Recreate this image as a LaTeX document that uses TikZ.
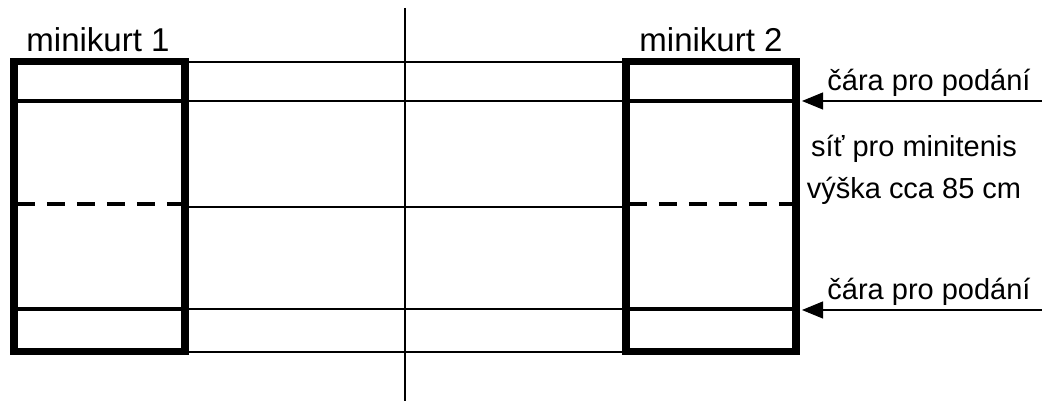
\documentclass[tikz,border=0pt]{standalone}
\usepackage{fontspec}
\setmainfont{Liberation Sans}
\usetikzlibrary{arrows.meta}
\tikzset{
  kurt/.style={line width=4.4pt},
  podani/.style={line width=2.7pt},
  sit/.style={line width=2.4pt, dash pattern=on 0.36cm off 0.24cm},
  spoj/.style={line width=1.5pt},
  sipka/.style={line width=0.6pt, -{Triangle[length=0.42cm,width=0.34cm]}},
  nazev/.style={font=\fontsize{18.8}{22}\selectfont},
  popis/.style={font=\fontsize{16.5}{20}\selectfont, align=center}
}
\begin{document}
\begin{tikzpicture}[x=0.02cm,y=-0.02cm]
\useasboundingbox (0,0) rectangle (1042,401);
% stredova cara
\draw[line width=1.2pt] (405,8) -- (405,401);
% cary mezi minikurty
\draw[spoj] (185,62) -- (626,62);
\draw[spoj] (185,101) -- (626,101);
\draw[spoj] (185,207) -- (626,207);
\draw[spoj] (185,309) -- (626,309);
\draw[spoj] (185,352) -- (626,352);
% minikurt 1
\draw[podani] (14,101) -- (185,101);
\draw[podani] (14,309) -- (185,309);
\draw[sit] (17,204) -- (185,204);
\draw[kurt] (14,61.5) rectangle (185,351.5);
\node[nazev] (kurt1) at (98,40) {minikurt 1};
% minikurt 2
\draw[podani] (626,101) -- (796,101);
\draw[podani] (626,309) -- (796,309);
\draw[sit] (629,204) -- (800,204);
\draw[kurt] (626,61.5) rectangle (796,351.5);
\node[nazev] (kurt2) at (711,40) {minikurt 2};
% popisky
\coordinate (p1) at (802,101);
\coordinate (p2) at (802,310);
\coordinate (k1) at (1042,101);
\coordinate (k2) at (1042,310);
\draw[sipka] (k1) -- (p1);
\draw[sipka] (k2) -- (p2);
\node[popis] (c1) at (929,83) {čára pro podání};
\node[popis] (c2) at (929,292) {čára pro podání};
\node[popis] (s1) at (914,170) {síť pro minitenis\\[4pt]výška cca 85 cm};
\end{tikzpicture}
\end{document}
